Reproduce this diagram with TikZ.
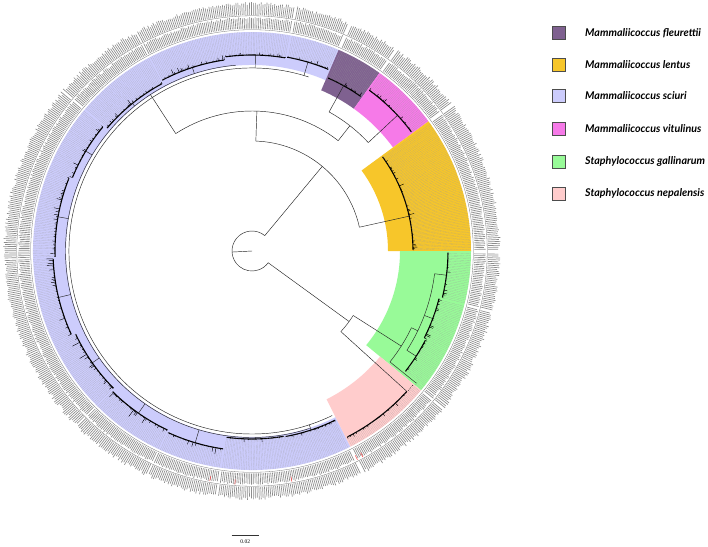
\documentclass[tikz,border=0pt]{standalone}
\usepackage{fontspec}
\setmainfont{Liberation Serif}
\newfontfamily\legfont{Lato}
\definecolor{cfleu}{RGB}{127,97,144}
\definecolor{clent}{RGB}{247,198,42}
\definecolor{csciu}{RGB}{204,204,252}
\definecolor{cvitu}{RGB}{246,122,232}
\definecolor{cgall}{RGB}{152,250,152}
\definecolor{cnepa}{RGB}{255,204,204}
\newcommand\bandfill[5]{\fill[#1] (#2:#4) arc[start angle=#2,end angle=#3,radius=#4pt] -- (#3:#5) arc[start angle=#3,end angle=#2,radius=#5pt] -- cycle;}
\newcommand\leafset[4]{%
  \pgfmathtruncatemacro\nn{(#2-#1)/0.45-1}%
  \foreach \i in {0,...,\nn}{%
    \pgfmathsetmacro\a{#1+0.225+\i*0.45}%
    \pgfmathsetmacro\tipR{#3+#4*rnd*rnd*rnd}%
    \pgfmathsetmacro\labA{232+2.2*rnd}%
    \pgfmathsetmacro\labB{245.5+3.5*rnd}%
    \draw[twig] (\a:#3) -- (\a:\tipR);
    \draw[guide] (\a:\tipR) -- (\a:219);
    \draw[lab] (\a:222.5) -- (\a:\labA);
    \draw[lab] (\a:236) -- (\a:\labB);
  }}
\newcommand\subclade[5]{%
  \pgfmathsetmacro\am{(#1+#2)/2}%
  \pgfmathsetmacro\aa{#1+0.3}%
  \pgfmathsetmacro\ab{#2-0.3}%
  \draw[tree] (\am:#3) -- (\am:#4);
  \draw[backbone] (\aa:#4) arc[start angle=\aa,end angle=\ab,radius=#4pt];
  \leafset{#1}{#2}{#4}{#5}}
\begin{document}
\begin{tikzpicture}[x=1pt,y=1pt,
  tree/.style={black!85,line width=0.45pt},
  backbone/.style={black,line width=1.1pt},
  twig/.style={black,line width=0.45pt},
  guide/.style={black!40,line width=0.2pt,dash pattern=on 0.5pt off 0.7pt},
  lab/.style={black!45,line width=0.65pt},
  ringline/.style={black!55,line width=0.3pt},
  redmark/.style={red!75,line width=0.5pt},
  legbox/.style={draw=black!70,line width=0.5pt,minimum size=13pt,inner sep=0pt},
  legtext/.style={anchor=west,font=\legfont\bfseries\itshape\fontsize{10.7}{12}\selectfont,inner sep=0pt}]
\useasboundingbox (0,0) rectangle (708,-546);
\fill[white] (0,0) rectangle (708,-546);
\pgfmathsetseed{7}
\begin{scope}[shift={(252,-251)}]
% clade bands
\bandfill{csciu}{66.7}{296.7}{186}{219}
\bandfill{cfleu}{54.4}{66.7}{175}{219}
\bandfill{cvitu}{36.3}{54.4}{175}{219}
\bandfill{clent}{0}{36.3}{136}{219}
\bandfill{cgall}{-39.5}{0}{148}{219}
\bandfill{cnepa}{-63.3}{-39.5}{166}{219}
% thin circles bounding the label rings
\draw[ringline] (0,0) circle[radius=221.3pt];
\draw[ringline] (0,0) circle[radius=235.2pt];
% root
\coordinate (root) at (0,0);
\draw[tree] (root) -- (183:20);
\draw[tree] (50.3:20) arc[start angle=50.3,end angle=324,radius=20pt];
% clade A
\draw[tree] (50.3:20) -- (50.3:110);
\draw[tree] (12.5:110) arc[start angle=12.5,end angle=88,radius=110pt];
\draw[tree] (88:110) -- (88:140);
\draw[tree] (52:140) arc[start angle=52,end angle=123,radius=140pt];
\draw[tree] (52:140) -- (52:159);
\draw[tree] (43:159) arc[start angle=43,end angle=61,radius=159pt];
% fleurettii
\draw[tree] (61:159) -- (61:189);
\subclade{54.6}{66.5}{189}{189}{7}
% vitulinus
\draw[tree] (43:159) -- (43:199);
\subclade{36.5}{54.2}{199}{199}{8}
% lentus
\draw[tree] (12.5:110) -- (12.5:161);
\subclade{0.2}{36.1}{161}{161}{10}
% sciuri
\draw[tree] (123:140) -- (123:183);
\draw[tree] (72:183) arc[start angle=72,end angle=296,radius=183pt];
\draw[tree] (95:186.5) arc[start angle=95,end angle=288,radius=186.5pt];
\draw[tree] (123:183) -- (123:186.5);
\subclade{67}{80}{183}{197}{8}
\subclade{80}{98}{183}{196}{10}
\subclade{98}{118}{186.5}{193}{9}
\subclade{118}{140}{186.5}{190}{10}
\subclade{140}{158}{186.5}{194}{10}
\subclade{158}{182}{186.5}{197}{12}
\subclade{182}{205}{186.5}{199}{11}
\subclade{205}{225}{186.5}{195}{14}
\subclade{225}{245}{186.5}{198}{13}
\subclade{245}{262}{186.5}{200}{11}
\subclade{262}{280}{186.5}{188}{5}
\subclade{280}{296.5}{183}{188.5}{5}
% clade B
\draw[tree] (324:20) -- (324:120);
\draw[tree] (-42.2:120) arc[start angle=-42.2,end angle=-32.5,radius=120pt];
% gallinarum
\draw[tree] (-32.5:120) -- (-32.5:177);
\draw[tree] (-38.8:177) arc[start angle=-38.8,end angle=-25.7,radius=177pt];
\draw[tree] (-25.7:177) -- (-25.7:184);
\draw[tree] (-32.65:184) arc[start angle=-32.65,end angle=-7.1,radius=184pt];
\draw[tree] (-38.8:177) -- (-38.8:211);
\leafset{-39.3}{-38.3}{211}{2}
\subclade{-38.3}{-27}{184}{195}{8}
\subclade{-27}{-14}{184}{193}{9}
\subclade{-14}{-0.2}{184}{196}{7}
% nepalensis
\draw[tree] (-42.2:120) -- (-42.2:209);
\draw[backbone] (-62.8:209) arc[start angle=-62.8,end angle=-42.2,radius=209pt];
\leafset{-63.1}{-39.7}{209}{6}
% red marks in the label rings
\foreach \r in {-100.4,-94.2,-80.2,-63.2,-61.7}{\draw[redmark] (\r:229) -- (\r:234);}
\end{scope}
% legend
\node[legbox,fill=cfleu] (lg1) at (558.5,-33) {};
\node[legbox,fill=clent] (lg2) at (558.5,-65) {};
\node[legbox,fill=csciu] (lg3) at (558.5,-96) {};
\node[legbox,fill=cvitu] (lg4) at (558.5,-128.5) {};
\node[legbox,fill=cgall] (lg5) at (558.5,-161.5) {};
\node[legbox,fill=cnepa] (lg6) at (558.5,-193.5) {};
\node[legtext] (lt1) at (585,-33) {Mammaliicoccus fleurettii};
\node[legtext] (lt2) at (585,-65) {Mammaliicoccus lentus};
\node[legtext] (lt3) at (585,-96) {Mammaliicoccus sciuri};
\node[legtext] (lt4) at (585,-128.5) {Mammaliicoccus vitulinus};
\node[legtext] (lt5) at (585,-161.5) {Staphylococcus gallinarum};
\node[legtext] (lt6) at (585,-193.5) {Staphylococcus nepalensis};
% scale bar
\coordinate (sb1) at (231.5,-535);
\coordinate (sb2) at (259,-535);
\draw[black!80,line width=0.5pt] (sb1) -- (sb2);
\node[font=\fontsize{5.5}{6}\selectfont,inner sep=0pt] (sbl) at (245.3,-542) {0.02};
\end{tikzpicture}
\end{document}
